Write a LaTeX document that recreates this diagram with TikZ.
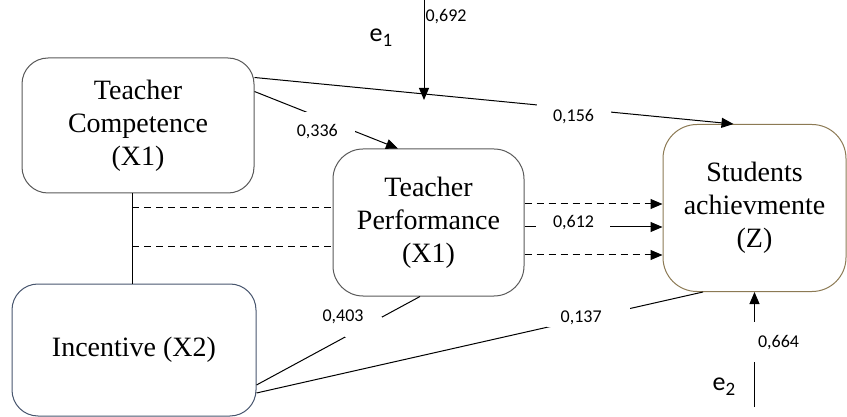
\documentclass[tikz,border=0pt]{standalone}
\usepackage{fontspec}
\setmainfont{Liberation Serif}
\newfontfamily\lblfont{Carlito}
\usetikzlibrary{arrows.meta, positioning}
\definecolor{incborder}{RGB}{72,86,110}
\definecolor{saborder}{RGB}{140,122,84}

\begin{document}
\begin{tikzpicture}[x=1pt, y=-1pt,
  box/.style={rectangle, draw=black!65, rounded corners=26pt, line width=1pt,
             align=center, inner sep=0pt, font=\fontsize{28}{33}\selectfont},
  coef/.style={inner sep=1pt, font=\lblfont\fontsize{18}{20}\selectfont},
  errlbl/.style={inner sep=0pt, font=\lblfont\fontsize{26}{28}\selectfont},
  gap/.style n args={2}{fill=white, inner sep=0pt, minimum width=#1, minimum height=#2},
  link/.style={line width=1pt},
  arrow/.style={link, -{Triangle[length=12pt, width=10pt]}},
  dashlink/.style={link, dash pattern=on 7pt off 5pt},
  dasharrow/.style={arrow, dash pattern=on 7pt off 5pt}
]
\useasboundingbox (0,0) rectangle (847,417);

\node[box, minimum width=232pt, minimum height=135pt] (tc) at (138,125.5) {Teacher\\Competence\\(X1)};
\node[box, minimum width=191pt, minimum height=147pt, rounded corners=30pt] (tp) at (428.5,222.5) {Teacher\\Performance\\(X1)};
\node[box, draw=incborder, minimum width=244pt, minimum height=132pt] (inc) at (134,350) {Incentive (X2)};
\node[box, draw=saborder, minimum width=183pt, minimum height=167pt, rounded corners=34pt] (sa) at (754.5,208) {Students\\achievmente\\(Z)};

\node[errlbl] (e1) at (381,38) {e\raisebox{-5pt}{\fontsize{19}{19}\selectfont 1}};
\node[errlbl] (e2) at (724,387) {e\raisebox{-5pt}{\fontsize{19}{19}\selectfont 2}};

\coordinate (tcs) at ([xshift=-6pt]tc.south);
\coordinate (l1) at ([yshift=14.5pt]tp.west);
\coordinate (l2) at ([yshift=-24.5pt]tp.west);
\coordinate (r1) at ([yshift=18.5pt]tp.east);
\coordinate (r2) at ([yshift=-4.5pt]tp.east);
\coordinate (r3) at ([yshift=-32.5pt]tp.east);
\coordinate (e1top) at (424,0);
\coordinate (e1end) at (424,100);
\coordinate (e2bot) at (754.5,407);

\draw[link] (tcs) -- (tcs |- inc.north);
\draw[dashlink] (l1 -| tcs) -- (l1);
\draw[dashlink] (l2 -| tcs) -- (l2);

\draw[dasharrow] (r1) -- (r1 -| sa.west);
\draw[arrow] (r2) -- node[gap={74pt}{10pt}, pos=0.355] {} node[coef, pos=0.355, yshift=4pt] {0,612} (r2 -| sa.west);
\draw[dasharrow] (r3) -- (r3 -| sa.west);

\draw[arrow] ([yshift=-20pt]tc.north east) -- node[gap={74pt}{14pt}, pos=0.666] {} node[coef, pos=0.666, yshift=-8pt] {0,156} ([xshift=-21pt]sa.north);
\draw[arrow] ([yshift=-34pt]tc.north east) -- node[gap={50pt}{20pt}, pos=0.528] {} node[coef, pos=0.528, xshift=-13pt, yshift=-10pt] {0,336} ([xshift=-30.5pt]tp.north);

\draw[link] ([yshift=-35pt]inc.east) -- node[gap={37pt}{20pt}, pos=0.655] {} node[coef, pos=0.655, xshift=-20.5pt, yshift=10pt] {0,403} ([xshift=-8.5pt]tp.south);
\draw[link] ([yshift=-43pt]inc.east) -- node[gap={83pt}{19pt}, pos=0.744] {} node[coef, pos=0.744, xshift=-7.5pt] {0,137} ([xshift=-51.5pt]sa.south);

\draw[arrow] (e1top) -- node[coef, pos=0.17, anchor=west] {0,692} (e1end);
\draw[arrow] (e2bot) -- node[gap={6pt}{40pt}, pos=0.565] {} node[coef, pos=0.557, anchor=west, xshift=2pt] {0,664} (sa.south);
\end{tikzpicture}
\end{document}
